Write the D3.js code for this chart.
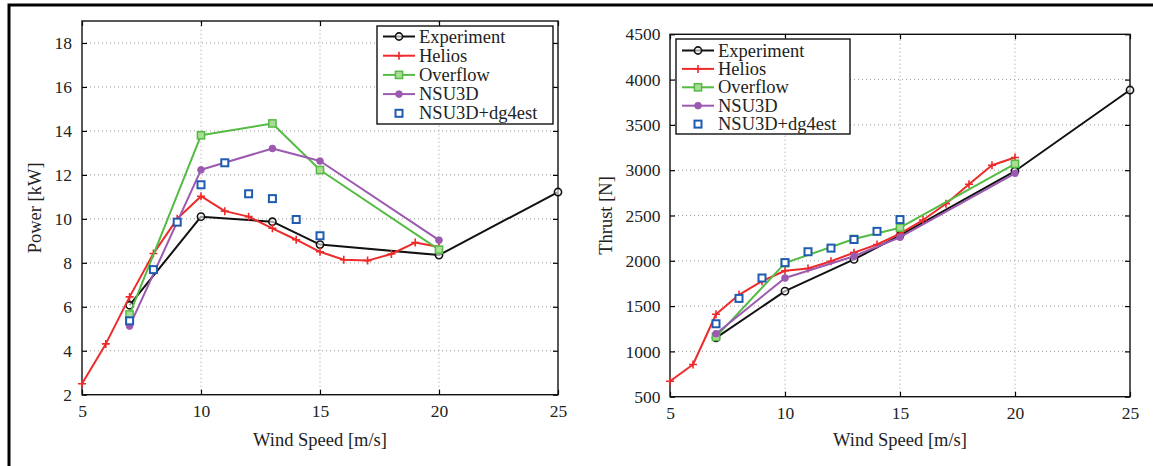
<!DOCTYPE html>
<html>
<head>
<meta charset="utf-8">
<script src="https://cdn.jsdelivr.net/npm/d3@7/dist/d3.min.js"></script>
<style>
  html, body { margin: 0; padding: 0; background: #fff; }
  svg { display: block; }
  text { font-family: "Liberation Serif", "Times New Roman", serif; fill: #222; }
</style>
</head>
<body>
<svg id="fig" width="1153" height="466"></svg>
<script>
// Wind speeds (m/s) at which each data set is sampled
const windExperiment = [7, 10, 13, 15, 20, 25];
const windHelios     = [5, 6, 7, 8, 9, 10, 11, 12, 13, 14, 15, 16, 17, 18, 19, 20];
const windOverflow   = [7, 10, 13, 15, 20];
const windNSU3D      = [7, 10, 13, 15, 20];
const windDg4est     = [7, 8, 9, 10, 11, 12, 13, 14, 15];

// Power [kW]
const powerExperiment = [6.07, 10.1, 9.87, 8.83, 8.35, 11.22];
const powerHelios     = [2.5, 4.31, 6.45, 8.42, 10.0, 11.03, 10.35, 10.1, 9.57, 9.05, 8.5, 8.14, 8.1, 8.4, 8.92, 8.72];
const powerOverflow   = [5.65, 13.8, 14.34, 12.22, 8.6];
const powerNSU3D      = [5.12, 12.23, 13.2, 12.63, 9.03];
const powerDg4est     = [5.36, 7.69, 9.85, 11.55, 12.55, 11.14, 10.92, 9.97, 9.23];

// Thrust [N]
const thrustExperiment = [1150, 1665, 2015, 2280, 2990, 3885];
const thrustHelios     = [670, 855, 1410, 1625, 1775, 1890, 1915, 1995, 2090, 2180, 2300, 2450, 2630, 2845, 3055, 3140];
const thrustOverflow   = [1160, 1975, 2240, 2365, 3070];
const thrustNSU3D      = [1195, 1810, 2050, 2260, 2965];
const thrustDg4est     = [1305, 1585, 1810, 1980, 2100, 2140, 2235, 2325, 2455];

// Axis ticks
const windTicks   = [5, 10, 15, 20, 25];
const powerTicks  = [2, 4, 6, 8, 10, 12, 14, 16, 18];
const thrustTicks = [500, 1000, 1500, 2000, 2500, 3000, 3500, 4000, 4500];

const seriesNames = ["Experiment", "Helios", "Overflow", "NSU3D", "NSU3D+dg4est"];

const styles = {
  "Experiment":   { color: "#111111", line: true,  marker: "circleOpen" },
  "Helios":       { color: "#ee2a2a", line: true,  marker: "plus" },
  "Overflow":     { color: "#55bb44", line: true,  marker: "squareGreen" },
  "NSU3D":        { color: "#9b59b0", line: true,  marker: "circleFilled" },
  "NSU3D+dg4est": { color: "#1f5bb0", line: false, marker: "squareOpen" }
};

const svg = d3.select("#fig");

// Figure frame (left and top edges fall inside the page)
svg.append("rect")
  .attr("x", 9).attr("y", 5)
  .attr("width", 1160).attr("height", 480)
  .attr("fill", "none").attr("stroke", "#000").attr("stroke-width", 3);

function drawMarker(g, type, color, x, y) {
  if (type === "circleOpen") {
    g.append("circle").attr("cx", x).attr("cy", y).attr("r", 3.6)
      .attr("fill", "#fff").attr("fill-opacity", 0.6)
      .attr("stroke", color).attr("stroke-width", 1.6);
  } else if (type === "circleFilled") {
    g.append("circle").attr("cx", x).attr("cy", y).attr("r", 3.4)
      .attr("fill", color).attr("stroke", color).attr("stroke-width", 0.8);
  } else if (type === "plus") {
    g.append("path")
      .attr("d", `M${x - 4},${y}H${x + 4}M${x},${y - 4}V${y + 4}`)
      .attr("stroke", color).attr("stroke-width", 1.6);
  } else if (type === "squareGreen") {
    g.append("rect").attr("x", x - 3.6).attr("y", y - 3.6)
      .attr("width", 7.2).attr("height", 7.2)
      .attr("fill", "#a8dd98").attr("stroke", color).attr("stroke-width", 1.5);
  } else if (type === "squareOpen") {
    g.append("rect").attr("x", x - 3.5).attr("y", y - 3.5)
      .attr("width", 7).attr("height", 7)
      .attr("fill", "#fff").attr("stroke", color).attr("stroke-width", 2);
  }
}

function drawPanel(p) {
  const x = d3.scaleLinear().domain([5, 25]).range([p.left, p.right]);
  const y = d3.scaleLinear().domain(p.yDomain).range([p.bottom, p.top]);
  const g = svg.append("g");

  // Dotted grid
  const grid = g.append("g").attr("stroke", "#9a9a9a").attr("stroke-width", 1)
    .attr("stroke-dasharray", "1,3");
  windTicks.slice(1, -1).forEach(t => {
    grid.append("line").attr("x1", x(t)).attr("x2", x(t))
      .attr("y1", p.bottom).attr("y2", p.top);
  });
  p.yTicks.slice(1).forEach(t => {
    if (y(t) <= p.top + 0.5) return;
    grid.append("line").attr("x1", p.left).attr("x2", p.right)
      .attr("y1", y(t)).attr("y2", y(t));
  });

  // Axes with inward ticks on all four sides
  const tickLen = 5;
  g.append("g").attr("transform", `translate(0,${p.bottom})`)
    .call(d3.axisBottom(x).tickValues(windTicks).tickSize(-tickLen).tickPadding(10).tickFormat(d3.format("d")))
    .call(a => a.select(".domain").remove());
  g.append("g").attr("transform", `translate(0,${p.top})`)
    .call(d3.axisTop(x).tickValues(windTicks).tickSize(-tickLen).tickFormat(""))
    .call(a => a.select(".domain").remove());
  g.append("g").attr("transform", `translate(${p.left},0)`)
    .call(d3.axisLeft(y).tickValues(p.yTicks).tickSize(-tickLen).tickPadding(p.yPad).tickFormat(d3.format("d")))
    .call(a => a.select(".domain").remove());
  g.append("g").attr("transform", `translate(${p.right},0)`)
    .call(d3.axisRight(y).tickValues(p.yTicks).tickSize(-tickLen).tickFormat(""))
    .call(a => a.select(".domain").remove());
  g.selectAll(".tick line").attr("stroke", "#000").attr("stroke-width", 1.2);
  g.selectAll(".tick text").style("font-size", "17.5px")
    .style("font-family", "'Liberation Serif', 'Times New Roman', serif").attr("fill", "#222");

  // Plot box
  g.append("rect").attr("x", p.left).attr("y", p.top)
    .attr("width", p.right - p.left).attr("height", p.bottom - p.top)
    .attr("fill", "none").attr("stroke", "#111").attr("stroke-width", 1.4);

  // Axis titles
  g.append("text").attr("x", (p.left + p.right) / 2).attr("y", 446)
    .attr("text-anchor", "middle").style("font-size", "18.5px").text("Wind Speed [m/s]");
  g.append("text")
    .attr("transform", `translate(${p.yLabelX},${(p.top + p.bottom) / 2}) rotate(-90)`)
    .attr("text-anchor", "middle").style("font-size", "18.5px").text(p.yLabel);

  // Series
  const plot = g.append("g");
  p.series.forEach(s => {
    const st = styles[s.name];
    const pts = s.wind.map((w, i) => [x(w), y(s.values[i])]);
    if (st.line) {
      plot.append("path").attr("d", d3.line()(pts))
        .attr("fill", "none").attr("stroke", st.color).attr("stroke-width", 2)
        .attr("stroke-linejoin", "round");
    }
    pts.forEach(([px, py]) => drawMarker(plot, st.marker, st.color, px, py));
  });

  // Legend
  const L = p.legend;
  const lg = g.append("g");
  lg.append("rect").attr("x", L.x).attr("y", L.y).attr("width", L.w).attr("height", L.h)
    .attr("fill", "#fff").attr("stroke", "#111").attr("stroke-width", 1.4);
  seriesNames.forEach((name, i) => {
    const st = styles[name];
    const ry = L.y + L.first + i * L.step;
    const x0 = L.x + 6, x1 = L.x + 38;
    if (st.line) {
      lg.append("line").attr("x1", x0).attr("x2", x1).attr("y1", ry).attr("y2", ry)
        .attr("stroke", st.color).attr("stroke-width", 2);
    }
    drawMarker(lg, st.marker, st.color, (x0 + x1) / 2, ry);
    lg.append("text").attr("x", L.x + 42).attr("y", ry + 6)
      .style("font-size", "18.5px").text(name);
  });
}

drawPanel({
  left: 82, right: 558, top: 21, bottom: 394.7,
  yDomain: [2, 19], yTicks: powerTicks, yPad: 10,
  yLabel: "Power [kW]", yLabelX: 41,
  series: [
    { name: "Experiment", wind: windExperiment, values: powerExperiment },
    { name: "Helios", wind: windHelios, values: powerHelios },
    { name: "Overflow", wind: windOverflow, values: powerOverflow },
    { name: "NSU3D", wind: windNSU3D, values: powerNSU3D },
    { name: "NSU3D+dg4est", wind: windDg4est, values: powerDg4est }
  ],
  legend: { x: 377, y: 26, w: 176, h: 98, first: 10.5, step: 19.2 }
});

drawPanel({
  left: 670, right: 1130, top: 34.3, bottom: 396.7,
  yDomain: [500, 4500], yTicks: thrustTicks, yPad: 9.5,
  yLabel: "Thrust [N]", yLabelX: 612,
  series: [
    { name: "Experiment", wind: windExperiment, values: thrustExperiment },
    { name: "Helios", wind: windHelios, values: thrustHelios },
    { name: "Overflow", wind: windOverflow, values: thrustOverflow },
    { name: "NSU3D", wind: windNSU3D, values: thrustNSU3D },
    { name: "NSU3D+dg4est", wind: windDg4est, values: thrustDg4est }
  ],
  legend: { x: 676, y: 39, w: 174, h: 95, first: 11.5, step: 18.4 }
});
</script>
</body>
</html>
